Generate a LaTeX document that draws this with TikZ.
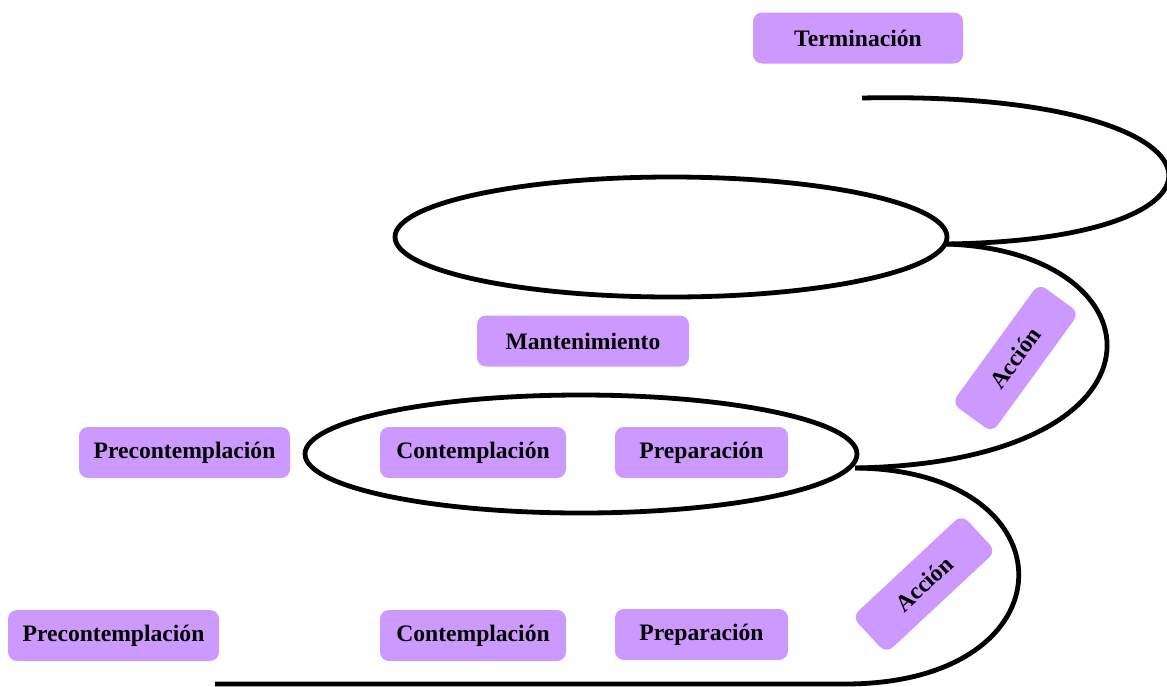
\documentclass[tikz,border=0pt]{standalone}
\usepackage{fontspec}
\setmainfont{Liberation Serif}
\usetikzlibrary{shapes.geometric}
\definecolor{stage}{HTML}{CC99FF}
\begin{document}
\begin{tikzpicture}[x=1pt,y=-1pt,
  stagebox/.style={fill=stage, rounded corners=9pt, inner sep=0pt,
    minimum height=51pt, font=\fontsize{23.6}{26}\selectfont\bfseries},
  loop/.style={draw, line width=4.8pt, ellipse, inner sep=0pt},
  spiral/.style={line width=4.8pt, line cap=butt}]
\useasboundingbox (0,0) rectangle (1167,686);

% the two closed loops of the spiral
\node[loop, minimum width=552pt, minimum height=118pt] (lowloop) at (581,454) {};
\node[loop, minimum width=552pt, minimum height=120pt] (highloop) at (671,237) {};

% joints and ends of the open spiral
\coordinate (start) at (215,684);
\coordinate (turn1) at (845,684);
\coordinate (join1) at (855,468);
\coordinate (join2) at (945,244);
\coordinate (finish) at (862,98);

\draw[spiral] (start) -- (turn1) .. controls (1075,684) and (1075,470) .. (join1);
\draw[spiral] (join1) .. controls (1185,462) and (1165,250) .. (join2);
\draw[spiral] (join2) .. controls (1270,240) and (1240,90) .. (finish);

% stage labels
\node[stagebox, minimum width=210pt] (term) at (858,38) {Terminación};
\node[stagebox, minimum width=212pt] (mant) at (583,341) {Mantenimiento};
\node[stagebox, minimum width=211pt] (pre2) at (184.5,452.5) {Precontemplación};
\node[stagebox, minimum width=186pt] (con2) at (473,452.5) {Contemplación};
\node[stagebox, minimum width=173pt] (prep2) at (701.5,452.5) {Preparación};
\node[stagebox, minimum width=211pt] (pre1) at (113.5,635.5) {Precontemplación};
\node[stagebox, minimum width=186pt] (con1) at (473,635.5) {Contemplación};
\node[stagebox, minimum width=173pt] (prep1) at (701.5,634.5) {Preparación};
\node[stagebox, minimum width=148pt, minimum height=50pt, rotate=54] (acc2) at (1015.5,358) {Acción};
\node[stagebox, minimum width=150pt, minimum height=50pt, rotate=43] (acc1) at (924,584) {Acción};
\end{tikzpicture}
\end{document}
